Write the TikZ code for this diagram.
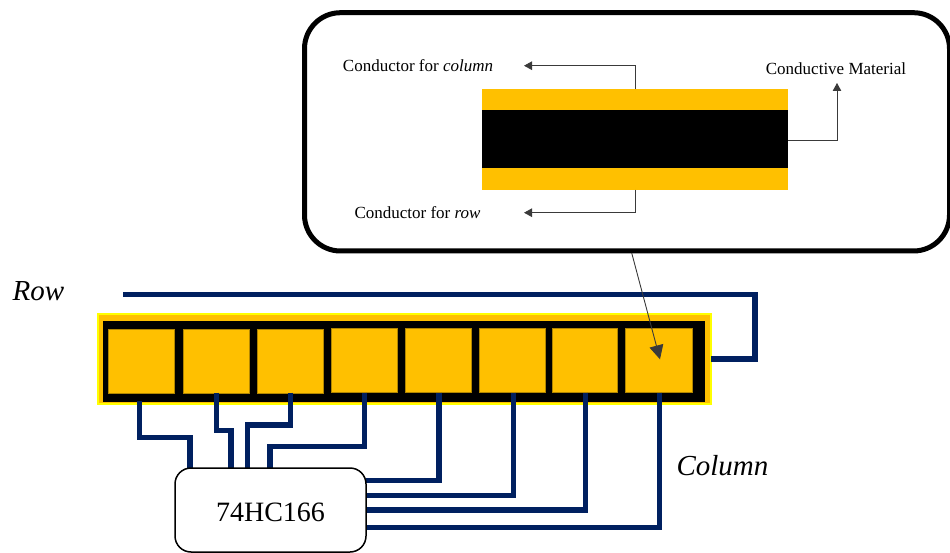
\documentclass[tikz,border=0pt]{standalone}
\usepackage{fontspec}
\setmainfont{Liberation Serif}
\usepackage{xcolor}
\usetikzlibrary{arrows.meta,positioning,calc}
\definecolor{amber}{HTML}{FFC000}
\definecolor{wireblue}{HTML}{002060}
\definecolor{edgeyellow}{HTML}{FFFF00}
\definecolor{leader}{HTML}{3A3A3A}

\begin{document}
\begin{tikzpicture}[
  x=1pt,y=-1pt,
  every node/.style={outer sep=0pt},
  cellbox/.style={fill=amber,draw=amber!70!black,line width=0.4pt,inner sep=0pt,anchor=north west},
  wire/.style={draw=wireblue,line width=5.5pt},
  lead/.style={-{Triangle[length=8pt,width=8.5pt]},draw=leader,line width=0.9pt},
  labeltext/.style={inner sep=0pt,font=\fontsize{17}{20}\selectfont},
  bigtext/.style={inner sep=0pt,font=\fontsize{29}{34}\selectfont\itshape}
]
\useasboundingbox (0,0) rectangle (950,553);

% callout with the layer section
\node[draw=black,line width=5pt,rounded corners=36pt,fill=white,minimum width=645pt,minimum height=238.3pt,inner sep=0pt,anchor=north west] (callout) at (304.5,12.7) {};
\node[fill=amber,minimum width=306pt,minimum height=100.2pt,inner sep=0pt,anchor=north west] (layers) at (482,89.5) {};
\node[fill=black,minimum width=306pt,minimum height=58.5pt,inner sep=0pt,anchor=north west] (core) at (482,110) {};
\node[labeltext] (colconductor) at (418,66) {Conductor for \textit{column}};
\node[labeltext] (rowconductor) at (417.5,213) {Conductor for \textit{row}};
\node[labeltext] (material) at (836,69) {Conductive Material};
\coordinate (coltip) at (524,65.7);
\coordinate (rowtip) at (524,212.7);
\coordinate (mattip) at (837,83);
\coordinate (matstart) at (788,140.7);
\draw[lead] (layers.north) |- (coltip);
\draw[lead] (layers.south) |- (rowtip);
\draw[lead] (matstart) -| (mattip);

% sensor strip
\node[fill=amber,draw=edgeyellow,line width=2pt,minimum width=613.5pt,minimum height=90pt,inner sep=0pt,anchor=north west] (panel) at (97.5,314) {};
\node[fill=black,minimum width=602.5pt,minimum height=80.5pt,inner sep=0pt,anchor=north west] (strip) at (102.7,321) {};
\foreach \n/\xa/\xb/\ya/\yb in {1/108.3/174/329.3/393.3,2/183.3/248.7/329.3/393.3,3/256.7/323.3/329.3/393.3,4/331.3/396.7/328/392.3,5/405/471.3/328/392.3,6/479.3/545/328/392.3,7/551.7/617.3/328.3/392.3,8/625.3/692/328.3/392.3}
  \node[cellbox,minimum width={(\xb-\xa)*1pt},minimum height={(\yb-\ya)*1pt}] (cell\n) at (\xa,\ya) {};

% row wire
\coordinate (rowstart) at (123,294.7);
\coordinate (rowcorner) at (755,294.7);
\draw[wire] (rowstart) -- (rowcorner) |- (panel.east);

% column wires
\coordinate (tap1) at (139.3,401);
\foreach \n/\tx in {2/216.7,3/290.7,4/364.7,5/439,6/513.3,7/585.7,8/659.3}
  \coordinate (tap\n) at (\tx,392.5);
\foreach \n/\px in {1/190,2/231,3/247.7,4/270}
  \coordinate (pin\n) at (\px,470);
\foreach \n/\py in {5/480.7,6/495.7,7/510,8/527.3}
  \coordinate (pin\n) at (366,\py);
\draw[wire] (tap1) -- ++(0,36.3) -| (pin1);
\draw[wire] (tap2) -- ++(0,38.2) -| (pin2);
\draw[wire] (tap3) -- ++(0,32.5) -| (pin3);
\draw[wire] (tap4) -- ++(0,54.2) -| (pin4);
\foreach \n in {5,6,7,8}
  \draw[wire] (tap\n) |- (pin\n);

\node[draw=black,line width=1.5pt,rounded corners=16pt,fill=white,minimum width=191pt,minimum height=84pt,inner sep=0pt,anchor=north west] (chip) at (175,468) {};
\node[font=\fontsize{28}{32}\selectfont,inner sep=0pt] (chipname) at (270.5,512) {74HC166};

\node[bigtext] (rowlabel) at (38.5,291) {Row};
\node[bigtext] (collabel) at (722.5,466) {Column};

% pointer to the last cell
\coordinate (zoomstart) at (631.7,253);
\coordinate (zoomtip) at (660,359.3);
\draw[-{Triangle[length=14pt,width=14pt]},draw=leader,line width=0.9pt] (zoomstart) -- (zoomtip);
\end{tikzpicture}
\end{document}
